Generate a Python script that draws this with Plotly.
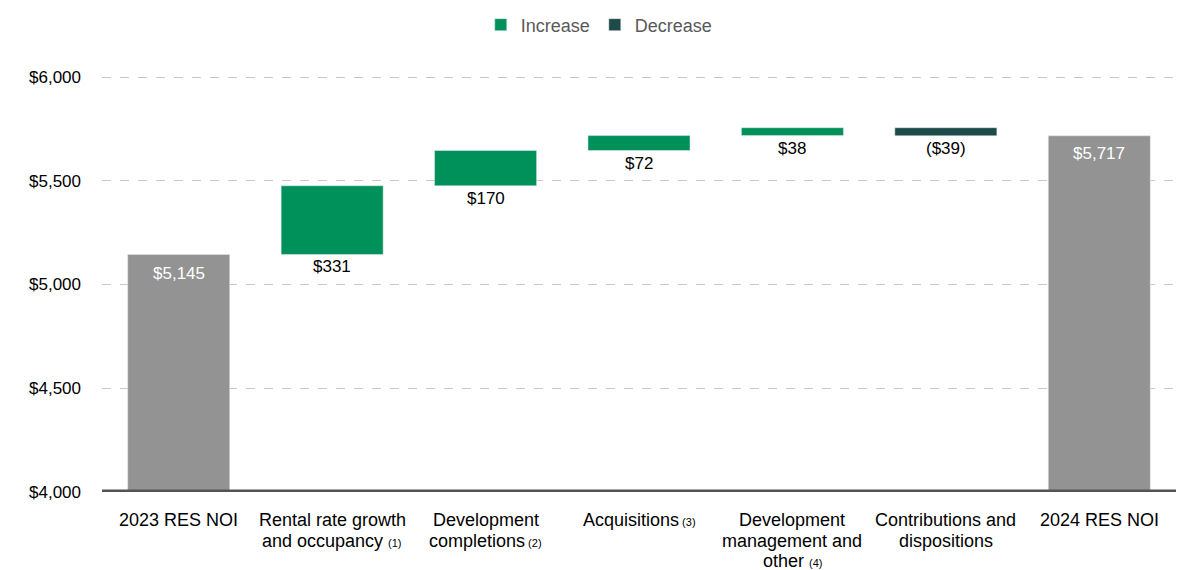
import plotly.graph_objects as go

categories = ["2023 RES NOI",
              "Rental rate growth<br>and occupancy <span style='font-size:11px'>(1)</span>",
              "Development<br>completions<span style='font-size:11px'> (2)</span>",
              "Acquisitions<span style='font-size:11px'> (3)</span>",
              "Development<br>management and<br>other <span style='font-size:11px'>(4)</span>",
              "Contributions and<br>dispositions",
              "2024 RES NOI"]
start_value = 5145
changes = [331, 170, 72, 38, -39]
end_value = 5717
tick_vals = [4000, 4500, 5000, 5500, 6000]
tick_text = ["$4,000", "$4,500", "$5,000", "$5,500", "$6,000"]

C_INC = "#00915A"
C_DEC = "#1E4B4A"
C_TOT = "#939393"

fig = go.Figure()

fig.add_trace(go.Bar(x=[categories[0], categories[-1]], y=[start_value - 4000, end_value - 4000],
                     base=[4000, 4000], marker_color=C_TOT, showlegend=False, width=0.665,
                     hoverinfo="skip"))

inc_x, inc_y, inc_b, dec_x, dec_y, dec_b = [], [], [], [], [], []
ann = []
running = start_value
for i, c in enumerate(changes):
    cat = categories[i + 1]
    if c >= 0:
        inc_x.append(cat); inc_y.append(c); inc_b.append(running)
        bottom = running
        label = f"${c}"
    else:
        dec_x.append(cat); dec_y.append(-c); dec_b.append(running + c)
        bottom = running + c
        label = f"(${-c})"
    ann.append(dict(x=cat, y=bottom, text=label, showarrow=False, yanchor="top", yshift=-1,
                    font=dict(size=17, color="#000000")))
    running += c

fig.add_trace(go.Bar(x=inc_x, y=inc_y, base=inc_b, marker_color=C_INC, name="Increase", width=0.665))
fig.add_trace(go.Bar(x=dec_x, y=dec_y, base=dec_b, marker_color=C_DEC, name="Decrease", width=0.665))

for cat, v, sh in [(categories[0], start_value, -8), (categories[-1], end_value, -6)]:
    ann.append(dict(x=cat, y=v, text=f"${v:,}", showarrow=False, yanchor="top", yshift=sh,
                    font=dict(size=17, color="#FFFFFF")))

# category labels, one annotation per line for tighter line spacing
for cat in categories:
    for j, line in enumerate(cat.split("<br>")):
        ann.append(dict(x=cat, xref="x", y=0, yref="paper", text=line, showarrow=False,
                        yanchor="middle", yshift=-28 - 20.5 * j,
                        font=dict(size=18, color="#000000")))

fig.update_layout(
    width=1198, height=570,
    margin=dict(l=94, r=30, t=67, b=86, autoexpand=False),
    plot_bgcolor="white", paper_bgcolor="white",
    font=dict(family="Liberation Sans, Arial, sans-serif", size=17, color="#000000"),
    barmode="overlay",
    legend=dict(orientation="h", x=0.463, xanchor="center", y=1.12, yanchor="middle", yref="paper",
                font=dict(size=18, color="#595959"), itemwidth=30,
                traceorder="normal", tracegroupgap=0),
    annotations=ann,
    showlegend=True,
)
fig.update_xaxes(categoryorder="array", categoryarray=categories, showgrid=False,
                 showticklabels=False, ticks="", showline=False, automargin=False)
fig.update_yaxes(range=[4000, 6010], tickvals=tick_vals, ticktext=tick_text,
                 showgrid=True, gridcolor="#C8C8C8", griddash="dash", gridwidth=1,
                 zeroline=False, ticklabelstandoff=20, tickfont=dict(size=17), automargin=False)
fig.add_shape(type="line", xref="paper", yref="y", x0=0, x1=1, y0=4000, y1=4000,
              line=dict(color="#545454", width=5), layer="above")

fig.write_html("out.html")
